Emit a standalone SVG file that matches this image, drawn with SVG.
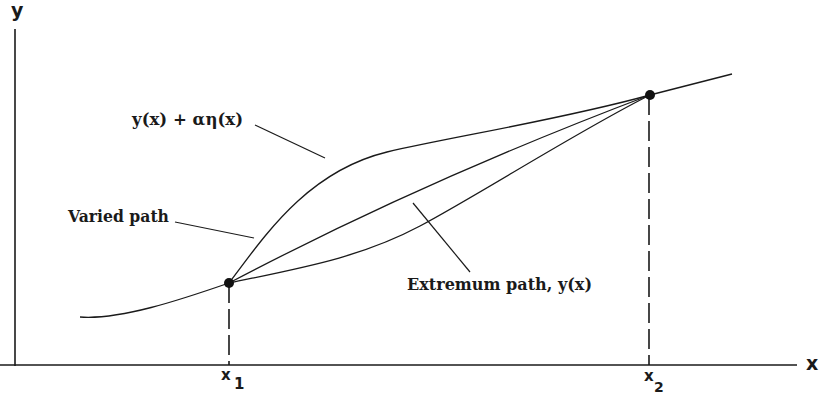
<svg xmlns="http://www.w3.org/2000/svg" width="819" height="395" viewBox="0 0 819 395">
<style>
.ax{stroke:#1a1a1a;stroke-width:1.6;fill:none}
.cv{stroke:#1a1a1a;stroke-width:1.3;fill:none}
.dash{stroke:#1a1a1a;stroke-width:1.6;fill:none;stroke-dasharray:20 6}
.ld{stroke:#1a1a1a;stroke-width:1.2;fill:none}
.lbl{font-family:"DejaVu Serif","Liberation Serif",serif;font-weight:bold;fill:#1a1a1a}
.axl{font-family:"DejaVu Sans","Liberation Sans",sans-serif;font-weight:bold;fill:#1a1a1a}
.dot{fill:#111}
</style>
<rect width="819" height="395" fill="#fff"/>
<g id="axes">
<line class="ax" x1="15" y1="29" x2="15" y2="366"/>
<line class="ax" x1="0" y1="365" x2="797" y2="365"/>
<text class="axl" x="11" y="17" font-size="19">y</text>
<text class="axl" x="806" y="370" font-size="19">x</text>
</g>
<g id="connectors">
<path class="cv" d="M80,317 C120,320 180,300 229,283"/>
<path class="cv" d="M650,95 L732,74"/>
<path id="varied-upper" class="cv" d="M229,283 C262,240 305,172 387,152 C450,137 560,120 650,95"/>
<path id="extremum" class="cv" d="M229,283 Q425,180 650,95"/>
<path id="varied-lower" class="cv" d="M229,283 C300,268 360,258 420,226 C480,194 580,130 650,95"/>
<line class="dash" x1="229" y1="283" x2="229" y2="365"/>
<line class="dash" x1="649" y1="95" x2="649" y2="365"/>
<line class="ld" x1="255" y1="125" x2="325" y2="158"/>
<line class="ld" x1="175" y1="222" x2="254" y2="238"/>
<line class="ld" x1="413" y1="203" x2="470" y2="272"/>
</g>
<g id="point-x1">
<circle class="dot" cx="229" cy="283" r="5"/>
<text class="axl" x="221" y="380" font-size="15">x</text>
<text class="axl" x="234" y="389" font-size="15">1</text>
</g>
<g id="point-x2">
<circle class="dot" cx="650" cy="95" r="5"/>
<text class="axl" x="644" y="381" font-size="15">x</text>
<text class="axl" x="654" y="392" font-size="14">2</text>
</g>
<g id="label-perturbed">
<text class="lbl" x="132" y="125" font-size="16" textLength="111" lengthAdjust="spacingAndGlyphs">y(x) + αη(x)</text>
</g>
<g id="label-varied">
<text class="lbl" x="68" y="222" font-size="16" textLength="101" lengthAdjust="spacingAndGlyphs">Varied path</text>
</g>
<g id="label-extremum">
<text class="lbl" x="407" y="290" font-size="16" textLength="185" lengthAdjust="spacingAndGlyphs">Extremum path, y(x)</text>
</g>
</svg>
